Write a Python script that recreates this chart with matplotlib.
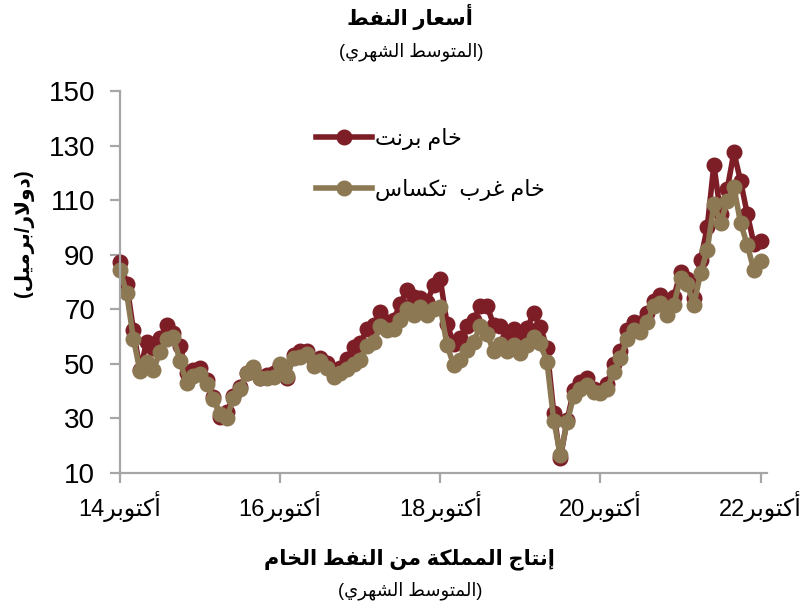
import re
import matplotlib
matplotlib.use("Agg")
import matplotlib.pyplot as plt

# monthly averages, Oct 2014 .. Oct 2022 ($/bbl)
brent = [87.43, 79.44, 62.34,
         47.76, 58.10, 55.89, 59.52, 64.08, 61.48, 56.56, 46.52, 47.62, 48.43, 44.27, 38.01,
         30.70, 32.18, 38.21, 41.58, 46.74, 48.25, 44.95, 45.84, 46.57, 49.52, 44.73, 53.31,
         54.58, 54.87, 51.59, 52.31, 50.33, 46.37, 48.48, 51.70, 56.15, 57.51, 62.71, 64.37,
         69.08, 65.32, 66.02, 72.11, 76.98, 74.41, 74.25, 72.53, 78.89, 81.03, 64.75, 57.36,
         59.41, 63.96, 66.14, 71.23, 71.32, 64.22, 63.92, 59.04, 62.83, 59.71, 63.21, 68.50,
         63.65, 55.66, 32.01, 15.50, 29.38, 40.27, 43.24, 44.74, 40.91, 40.19, 42.69, 49.99,
         54.77, 62.28, 65.41, 64.81, 68.53, 73.16, 75.17, 70.75, 74.49, 83.54, 81.05, 74.17,
         88.0, 100.0, 123.0, 105.0, 114.0, 127.5, 117.0, 105.0, 94.0, 95.0]
wti = [84.34, 75.81, 59.29,
       47.22, 50.58, 47.82, 54.45, 59.27, 59.82, 50.90, 42.87, 45.48, 46.22, 42.44, 37.19,
       31.68, 30.32, 37.55, 40.75, 46.71, 48.76, 44.65, 44.72, 45.18, 49.78, 45.66, 51.97,
       52.50, 53.47, 49.33, 51.06, 48.48, 45.18, 46.63, 48.04, 49.82, 51.58, 56.64, 57.88,
       63.70, 62.23, 62.73, 66.25, 69.98, 67.87, 70.98, 68.06, 70.23, 70.75, 56.96, 49.52,
       51.38, 54.95, 58.15, 63.86, 60.83, 54.66, 57.35, 54.81, 56.95, 53.96, 57.03, 59.88,
       57.52, 50.54, 29.21, 16.55, 28.56, 38.31, 40.71, 42.34, 39.63, 39.40, 40.94, 47.02,
       52.00, 59.04, 62.33, 61.72, 65.17, 71.38, 72.49, 67.73, 71.65, 81.48, 79.15, 71.71,
       83.22, 91.64, 108.50, 101.78, 109.55, 114.84, 101.62, 93.67, 84.26, 87.55]
tick_years = ["14", "16", "18", "20", "22"]
yticks = [10, 30, 50, 70, 90, 110, 130, 150]

title = "أسعار النفط"
subtitle = "(المتوسط الشهري)"
ylabel = "(دولار/برميل)"
month_word = "أكتوبر"
bottom_title = "إنتاج المملكة من النفط الخام"
names = ["خام برنت", "خام غرب  تكساس"]

# --- minimal arabic shaping (matplotlib has no bidi / joining) ---
# letter: (isolated, final, initial, medial) ; 2-tuple = joins only to the right
FORMS = {
    "ا": (0xFE8D, 0xFE8E), "أ": (0xFE83, 0xFE84), "إ": (0xFE87, 0xFE88),
    "ب": (0xFE8F, 0xFE90, 0xFE91, 0xFE92), "ة": (0xFE93, 0xFE94),
    "ت": (0xFE95, 0xFE96, 0xFE97, 0xFE98), "ج": (0xFE9D, 0xFE9E, 0xFE9F, 0xFEA0),
    "خ": (0xFEA5, 0xFEA6, 0xFEA7, 0xFEA8), "د": (0xFEA9, 0xFEAA),
    "ر": (0xFEAD, 0xFEAE), "س": (0xFEB1, 0xFEB2, 0xFEB3, 0xFEB4),
    "ش": (0xFEB5, 0xFEB6, 0xFEB7, 0xFEB8), "ط": (0xFEC1, 0xFEC2, 0xFEC3, 0xFEC4),
    "ع": (0xFEC9, 0xFECA, 0xFECB, 0xFECC), "غ": (0xFECD, 0xFECE, 0xFECF, 0xFED0),
    "ف": (0xFED1, 0xFED2, 0xFED3, 0xFED4), "ك": (0xFED9, 0xFEDA, 0xFEDB, 0xFEDC),
    "ل": (0xFEDD, 0xFEDE, 0xFEDF, 0xFEE0), "م": (0xFEE1, 0xFEE2, 0xFEE3, 0xFEE4),
    "ن": (0xFEE5, 0xFEE6, 0xFEE7, 0xFEE8), "ه": (0xFEE9, 0xFEEA, 0xFEEB, 0xFEEC),
    "و": (0xFEED, 0xFEEE), "ي": (0xFEF1, 0xFEF2, 0xFEF3, 0xFEF4),
}
LAM_ALEF = {"ا": (0xFEFB, 0xFEFC), "أ": (0xFEF7, 0xFEF8), "إ": (0xFEF9, 0xFEFA)}
MIRROR = {"(": ")", ")": "("}


def ar(text):
    # lam + alef ligatures first
    items = []
    i = 0
    while i < len(text):
        c = text[i]
        if c == "ل" and i + 1 < len(text) and text[i + 1] in LAM_ALEF:
            items.append(("LA", LAM_ALEF[text[i + 1]]))
            i += 2
        else:
            items.append((c, FORMS.get(c)))
            i += 1
    out = []
    for k, (c, f) in enumerate(items):
        if f is None:
            out.append(MIRROR.get(c, c))
            continue
        prev = items[k - 1][1] if k > 0 else None
        nxt = items[k + 1][1] if k + 1 < len(items) else None
        j_prev = prev is not None and len(prev) == 4 and items[k - 1][0] != "LA"
        j_next = len(f) == 4 and c != "LA" and nxt is not None
        if j_prev and j_next:
            g = f[3]
        elif j_prev:
            g = f[1]
        elif j_next:
            g = f[2]
        else:
            g = f[0]
        out.append(chr(g))
    vis = "".join(out)[::-1]
    # keep digit runs left-to-right
    return re.sub(r"[0-9]+", lambda m: m.group(0)[::-1], vis)


plt.rcParams["font.family"] = ["Liberation Sans", "DejaVu Sans"]
red = "#7D1E27"
tan = "#8C7853"
grey = "#A6A6A6"

fig = plt.figure(figsize=(8.04, 6.12), dpi=100)
ax = fig.add_axes([0.1493, 0.2271, 0.805, 0.6242])

x = list(range(len(brent)))
ax.plot(x, brent, color=red, lw=4, marker="o", ms=10.5, mec=red, mfc=red,
        clip_on=False, label=ar(names[0]))
ax.plot(x, wti, color=tan, lw=4, marker="o", ms=10.5, mec=tan, mfc=tan,
        clip_on=False, label=ar(names[1]))

ax.set_ylim(10, 150)
ax.set_xlim(0, 97)
ax.set_yticks(yticks)
ax.set_yticklabels([str(v) for v in yticks], fontsize=20)
ax.set_xticks([i * 24 for i in range(len(tick_years))])
ax.set_xticklabels([ar(month_word + y) for y in tick_years], fontsize=17)

for s in ["top", "right"]:
    ax.spines[s].set_visible(False)
for s in ["left", "bottom"]:
    ax.spines[s].set_color(grey)
    ax.spines[s].set_linewidth(1.6)
ax.tick_params(axis="both", color=grey, width=1.6, length=7, direction="out")
ax.tick_params(axis="y", pad=11)
ax.tick_params(axis="x", pad=6)

leg = ax.legend(loc="upper left", bbox_to_anchor=(0.272, 0.955), frameon=False,
                fontsize=16, labelspacing=1.3, handlelength=2.5, handletextpad=0.15)

fig.text(0.510, 0.972, ar(title), ha="center", va="center", fontsize=15, fontweight="bold")
fig.text(0.511, 0.915, ar(subtitle), ha="center", va="center", fontsize=13)
fig.text(0.030, 0.619, ar(ylabel), ha="center", va="center", rotation=90,
         fontsize=14.5, fontweight="bold")
fig.text(0.509, 0.086, ar(bottom_title), ha="center", va="center", fontsize=15, fontweight="bold")
fig.text(0.510, 0.035, ar(subtitle), ha="center", va="center", fontsize=13)

fig.savefig("out.png", dpi=100)
